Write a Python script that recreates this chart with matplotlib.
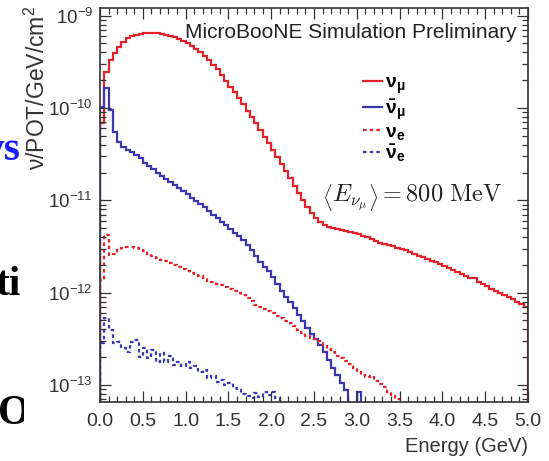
import numpy as np
import matplotlib
matplotlib.use("Agg")
import matplotlib.pyplot as plt
from matplotlib.ticker import MultipleLocator, LogLocator, NullFormatter, FormatStrFormatter

plt.rcParams['font.family'] = ['Liberation Sans', 'DejaVu Sans']
plt.rcParams['mathtext.fontset'] = 'custom'
plt.rcParams['mathtext.rm'] = 'Liberation Sans'
plt.rcParams['mathtext.it'] = 'Liberation Sans:italic'
plt.rcParams['mathtext.bf'] = 'Liberation Sans:bold'

# flux per 0.05 GeV bin, 0 - 5 GeV (nu / POT / GeV / cm^2), 0 = empty bin
bin_width = 0.05
numu = [
    6.9e-11, 2.46e-10, 3.32e-10, 3.95e-10, 4.59e-10, 5.20e-10, 5.75e-10, 6.04e-10, 6.19e-10, 6.35e-10,
    6.52e-10, 6.52e-10, 6.52e-10, 6.52e-10, 6.35e-10, 6.19e-10, 6.04e-10, 5.89e-10, 5.61e-10, 5.33e-10,
    5.07e-10, 4.71e-10, 4.36e-10, 4.06e-10, 3.66e-10, 3.32e-10, 2.93e-10, 2.65e-10, 2.29e-10, 1.97e-10,
    1.70e-10, 1.49e-10, 1.29e-10, 1.11e-10, 9.3e-11, 8.0e-11, 6.9e-11, 5.8e-11, 4.87e-11, 4.19e-11,
    3.52e-11, 2.95e-11, 2.48e-11, 2.08e-11, 1.75e-11, 1.43e-11, 1.20e-11, 1.01e-11, 8.47e-12, 7.29e-12,
    6.44e-12, 5.83e-12, 5.41e-12, 5.15e-12, 5.02e-12, 4.90e-12, 4.77e-12, 4.65e-12, 4.55e-12, 4.44e-12,
    4.33e-12, 4.11e-12, 4.02e-12, 3.82e-12, 3.63e-12, 3.45e-12, 3.37e-12, 3.29e-12, 3.21e-12, 3.05e-12,
    2.97e-12, 2.90e-12, 2.76e-12, 2.62e-12, 2.50e-12, 2.44e-12, 2.32e-12, 2.20e-12, 2.15e-12, 2.05e-12,
    1.95e-12, 1.85e-12, 1.76e-12, 1.67e-12, 1.60e-12, 1.52e-12, 1.44e-12, 1.43e-12, 1.31e-12, 1.24e-12,
    1.18e-12, 1.10e-12, 1.04e-12, 9.9e-13, 9.4e-13, 8.97e-13, 8.55e-13, 7.9e-13, 7.55e-13, 7.0e-13,
]
numubar = [
    1.03e-10, 1.65e-10, 9.5e-11, 5.5e-11, 4.30e-11, 3.79e-11, 3.52e-11, 3.34e-11, 3.10e-11, 2.88e-11,
    2.54e-11, 2.36e-11, 2.19e-11, 1.98e-11, 1.84e-11, 1.71e-11, 1.58e-11, 1.47e-11, 1.36e-11, 1.26e-11,
    1.17e-11, 1.06e-11, 9.8e-12, 9.1e-12, 8.47e-12, 7.67e-12, 6.95e-12, 6.44e-12, 5.83e-12, 5.41e-12,
    4.90e-12, 4.44e-12, 4.11e-12, 3.72e-12, 3.29e-12, 2.90e-12, 2.50e-12, 2.15e-12, 1.90e-12, 1.72e-12,
    1.48e-12, 1.24e-12, 1.04e-12, 8.97e-13, 7.9e-13, 6.82e-13, 5.73e-13, 4.93e-13, 4.15e-13, 3.57e-13,
    3.15e-13, 2.71e-13, 2.28e-13, 1.87e-13, 1.53e-13, 1.28e-13, 1.05e-13, 8.8e-14, 0, 0,
    8.4e-14, 0, 0, 0, 0, 0, 0, 0, 0, 0,
    0, 0, 0, 0, 0, 0, 0, 0, 0, 0,
    0, 0, 0, 0, 0, 0, 0, 0, 0, 0,
    0, 0, 0, 0, 0, 0, 0, 0, 0, 0,
]
nue = [
    1.37e-12, 4.22e-12, 2.56e-12, 2.62e-12, 2.90e-12, 3.05e-12, 3.13e-12, 3.13e-12, 3.05e-12, 2.90e-12,
    2.83e-12, 2.62e-12, 2.50e-12, 2.38e-12, 2.26e-12, 2.20e-12, 2.10e-12, 2.00e-12, 1.90e-12, 1.81e-12,
    1.72e-12, 1.63e-12, 1.60e-12, 1.52e-12, 1.44e-12, 1.34e-12, 1.31e-12, 1.24e-12, 1.21e-12, 1.15e-12,
    1.10e-12, 1.04e-12, 9.9e-13, 9.4e-13, 8.77e-13, 8.13e-13, 7.36e-13, 7.0e-13, 6.65e-13, 6.34e-13,
    6.03e-13, 5.60e-13, 5.32e-13, 4.93e-13, 4.70e-13, 4.36e-13, 3.94e-13, 3.66e-13, 3.40e-13, 3.23e-13,
    3.15e-13, 3.00e-13, 2.71e-13, 2.45e-13, 2.28e-13, 2.06e-13, 1.96e-13, 1.82e-13, 1.69e-13, 1.53e-13,
    1.38e-13, 1.28e-13, 1.22e-13, 1.25e-13, 1.10e-13, 1.03e-13, 9.5e-14, 8.4e-14, 7.6e-14, 7.05e-14,
    0, 0, 0, 0, 0, 0, 0, 0, 0, 0,
    0, 0, 0, 0, 0, 0, 0, 0, 0, 0,
    0, 0, 0, 0, 0, 0, 0, 0, 0, 0,
]
nuebar = [
    2.85e-13, 5.32e-13, 3.94e-13, 2.85e-13, 2.92e-13, 2.52e-13, 2.28e-13, 2.92e-13, 3.08e-13, 2.01e-13,
    2.52e-13, 1.96e-13, 2.39e-13, 1.77e-13, 2.22e-13, 1.77e-13, 2.06e-13, 1.65e-13, 1.77e-13, 1.61e-13,
    1.77e-13, 1.53e-13, 1.61e-13, 1.38e-13, 1.46e-13, 1.19e-13, 1.25e-13, 1.08e-13, 1.13e-13, 1.0e-13,
    1.05e-13, 9.3e-14, 8.8e-14, 8.0e-14, 7.6e-14, 7.2e-14, 8.2e-14, 7.4e-14, 8.4e-14, 7.8e-14,
    8.4e-14, 7.2e-14, 0, 0, 0, 0, 0, 0, 0, 0,
    0, 0, 0, 0, 0, 0, 0, 0, 0, 0,
    0, 0, 0, 0, 0, 0, 0, 0, 0, 0,
    0, 0, 0, 0, 0, 0, 0, 0, 0, 0,
    0, 0, 0, 0, 0, 0, 0, 0, 0, 0,
    0, 0, 0, 0, 0, 0, 0, 0, 0, 0,
]
labels = [r'$\mathbf{\nu_{\mu}}$', r'$\mathbf{\bar{\nu}_{\mu}}$',
          r'$\mathbf{\nu_{e}}$', r'$\mathbf{\bar{\nu}_{e}}$']

RED = '#e2232b'
BLUE = '#3c36b0'
FLOOR = 1e-16  # empty bins drop below the frame

fig = plt.figure(figsize=(5.49, 4.61), dpi=100)
ax = fig.add_axes([100 / 549, 59 / 461, 428 / 549, 394 / 461])

edges = np.arange(len(numu) + 1) * bin_width
series = [(numu, RED, '-'), (numubar, BLUE, '-'),
          (nue, RED, (0, (1.6, 1.4))), (nuebar, BLUE, (0, (1.6, 1.4)))]
handles = []
for (vals, col, ls), lab in zip(series, labels):
    v = np.asarray(vals, dtype=float)
    v = np.where(v > 0, v, FLOOR)
    h = ax.stairs(v, edges, baseline=FLOOR, color=col, linestyle=ls,
                  linewidth=1.6, label=lab)
    handles.append(h)

ax.set_yscale('log')
ax.set_xlim(0, 5)
ax.set_ylim(6.55e-14, 1.21e-9)

ax.xaxis.set_major_locator(MultipleLocator(0.5))
ax.xaxis.set_minor_locator(MultipleLocator(0.1))
ax.xaxis.set_major_formatter(FormatStrFormatter('%.1f'))
ax.yaxis.set_major_locator(LogLocator(base=10))
ax.yaxis.set_minor_locator(LogLocator(base=10, subs=np.arange(2, 10)))
ax.yaxis.set_minor_formatter(NullFormatter())
ax.tick_params(which='both', direction='in', top=True, right=True, width=0.9, colors='#333333')
ax.tick_params(which='major', length=8, labelsize=14, labelcolor='#333333')
ax.tick_params(axis='x', which='major', pad=8)
ax.tick_params(axis='y', which='major', pad=5, labelsize=13.5)
ax.tick_params(which='minor', length=4)
for sp in ax.spines.values():
    sp.set_linewidth(1.2)
    sp.set_color('#333333')

ax.set_xlabel('Energy (GeV)', fontsize=14.5, color='#333333')
ax.xaxis.set_label_coords(1.0, -0.09)
ax.xaxis.label.set_ha('right')

fig.text(37 / 549, 1 - 6 / 461, 'ν/POT/GeV/cm$^2$', rotation=90, ha='center', va='top',
         fontsize=16.5, color='#333333')

ax.text(0.974, 0.939, 'MicroBooNE Simulation Preliminary', transform=ax.transAxes,
        ha='right', va='center', fontsize=15, color='#222222')
ax.text(0.939, 0.520, r'$\left\langle E_{\nu_\mu} \right\rangle = 800\ \mathrm{MeV}$',
        transform=ax.transAxes, ha='right', va='center', fontsize=17.5,
        math_fontfamily='cm', color='#222222')

ax.legend(handles=handles, loc='upper left', bbox_to_anchor=(0.6145, 0.832),
          frameon=False, fontsize=14, handlelength=1.0, handletextpad=0.15,
          labelspacing=0.07, borderpad=0, borderaxespad=0)

# slide text peeking out at the left edge
ax_slide = fig.add_axes([0, 0, 24 / 549, 1])
ax_slide.axis('off')
ax_slide.set_xlim(0, 24)
ax_slide.set_ylim(461, 0)
for txt, xa, ha, yb, col in [('ys', 21, 'right', 160, '#1a1aff'),
                             ('ti', 21, 'right', 295, 'black'),
                             ('Or', -2, 'left', 424, 'black')]:
    ax_slide.text(xa, yb, txt, ha=ha, va='baseline', fontsize=30, fontweight='bold',
                  family='Liberation Serif', color=col, clip_on=True)

fig.savefig('out.png', dpi=100)
